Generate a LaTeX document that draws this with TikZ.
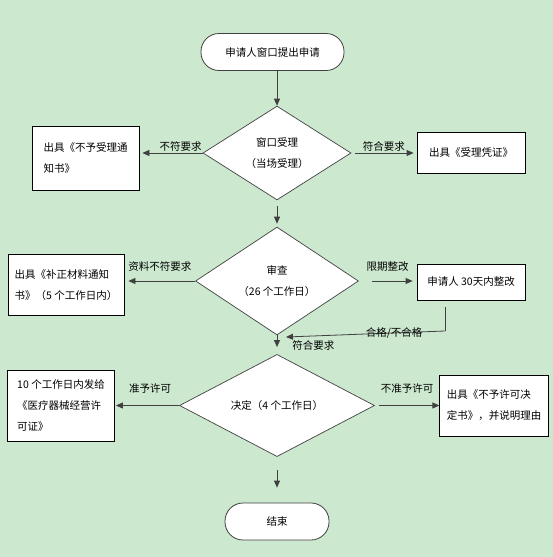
\documentclass[tikz,border=0pt]{standalone}
\usepackage{fontspec}
\setmainfont{Noto Sans CJK SC}
\usetikzlibrary{arrows.meta,shapes.geometric}
\definecolor{bgcol}{RGB}{204,232,207}
\definecolor{linecol}{RGB}{64,64,64}
\begin{document}
\begin{tikzpicture}[x=1pt, y=-1pt, inner sep=1pt,
      font=\fontsize{10.5pt}{21pt}\selectfont,
      term/.style={draw=linecol, fill=white, rounded corners=18pt, minimum height=37pt, line width=0.8pt},
      box/.style={draw=black, fill=white, align=left, inner sep=0pt, line width=0.8pt},
      decide/.style={diamond, draw=linecol, fill=white, inner sep=0pt, align=center, line width=0.7pt},
      link/.style={draw=linecol, line width=0.8pt},
      arr/.style={link, -{Triangle[length=7pt,width=6pt]}},
      lbl/.style={font=\fontsize{10.5pt}{12pt}\selectfont}]
      \fill[bgcol] (0,0) rectangle (553,557);
      \node[term, minimum width=143pt] (start) at (272.5,52) {申请人窗口提出申请};
      \node[decide, minimum width=148pt, minimum height=91pt] (d1) at (277,153) {窗口受理\\（当场受理）};
      \node[box, minimum width=107pt, minimum height=64pt] (nrej) at (85.5,158) {出具《不予受理通\\知书》};
      \node[box, minimum width=108pt, minimum height=41pt] (cert) at (471,152.5) {出具《受理凭证》};
      \node[decide, minimum width=163pt, minimum height=101pt] (d2) at (277,281) {审查\\（26 个工作日）};
      \node[box, minimum width=116pt, minimum height=61pt] (supp) at (66,285) {出具《补正材料通知\\书》（5 个工作日内）};
      \node[box, minimum width=108pt, minimum height=36pt] (fix) at (471,282) {申请人 30天内整改};
      \node[decide, minimum width=195pt, minimum height=72pt] (d3) at (277,405.5) {决定（4 个工作日）};
      \node[box, minimum width=107pt, minimum height=71pt] (grant) at (61,405.5) {10 个工作日内发给\\《医疗器械经营许\\可证》};
      \node[box, minimum width=108.5pt, minimum height=61pt] (deny) at (494,405.5) {出具《不予许可决\\定书》，并说明理由};
      \node[term, minimum width=104pt] (stop) at (277,521.5) {结束};
      \coordinate (bend) at (445,331);
      \coordinate (back) at (286,337);
      \draw[arr] (start.south -| d1.north) -- (d1.north);
      \draw[arr, shorten >=3pt] (d1.west) -- (d1.west -| nrej.east) node[lbl, pos=0.35, above] {不符要求};
      \draw[arr, shorten <=4pt, shorten >=3pt] (d1.east) -- (d1.east -| cert.west) node[lbl, midway, above] {符合要求};
      \draw[arr, shorten <=6pt, shorten >=3pt] (d1.south) -- (d2.north);
      \draw[arr, shorten >=4pt] (d2.west) -- (d2.west -| supp.east) node[lbl, midway, above=8pt] {资料不符要求};
      \draw[arr, shorten <=13pt, shorten >=4pt] (d2.east) -- (d2.east -| fix.west) node[lbl, midway, above=8pt] {限期整改};
      \draw[link, shorten <=7pt] (fix.south -| bend) -- (bend);
      \draw[arr] (bend) -- (back) node[lbl, pos=0.32] {合格/不合格};
      \draw[arr, shorten >=7pt] (d2.south) -- (d3.north) node[lbl, pos=0.55, right=14pt] {符合要求};
      \draw[arr, shorten >=1pt] (d3.west) -- (grant.east) node[lbl, pos=0.45, above=11pt] {准予许可};
      \draw[arr, shorten <=4pt] (d3.east) -- (deny.west) node[lbl, midway, above=11pt] {不准予许可};
      \draw[arr, shorten <=13pt, shorten >=15pt] (d3.south) -- (stop.north);
   \end{tikzpicture}
\end{document}
